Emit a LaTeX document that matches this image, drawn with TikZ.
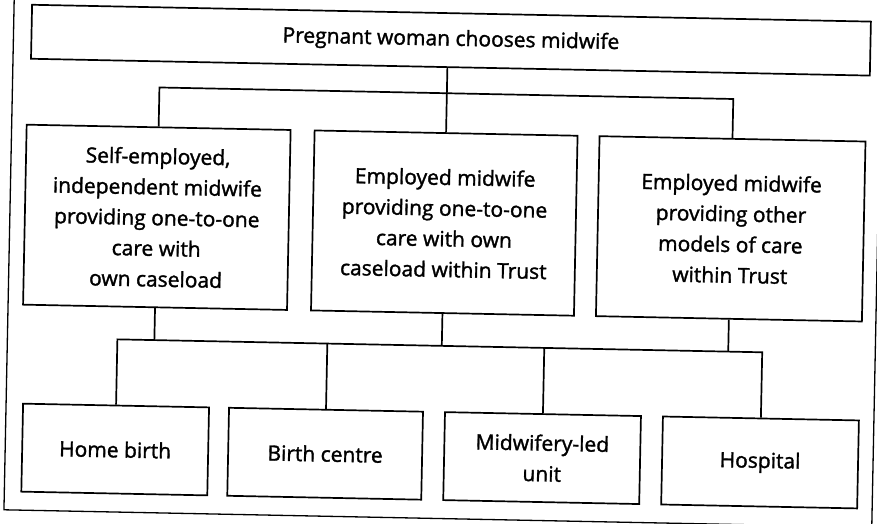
\documentclass[tikz,border=0pt]{standalone}
\usepackage{fontspec}
\setmainfont[FakeBold=1.5]{Open Sans}
\begin{document}
\begin{tikzpicture}[x=1pt,y=-1pt,
  box/.style={draw, line width=1.7pt, align=center, inner sep=0pt, transform shape,
    font=\fontsize{21}{30.7}\selectfont},
  conn/.style={line width=1.7pt}]
\useasboundingbox (0,0) rectangle (877,524);
\clip (0,0) rectangle (877,524);
\begin{scope}[rotate around={-1.15:(440,262)}]
\draw[line width=1.3pt] (9,-40) rectangle (877,518.5);
\node[box, minimum width=839pt, minimum height=54pt] (top) at (446.5,40) {Pregnant woman chooses midwife};
\node[box, minimum width=264pt, minimum height=180pt] (l1) at (156,223) {Self-employed,\\independent midwife\\providing one-to-one\\care with\\own caseload};
\node[box, minimum width=263pt, minimum height=180pt] (l2) at (443.5,223) {Employed midwife\\providing one-to-one\\care with own\\caseload within Trust};
\node[box, minimum width=266pt, minimum height=180pt] (l3) at (730,223) {Employed midwife\\providing other\\models of care\\within Trust};
\node[box, minimum width=186pt, minimum height=88pt] (b1) at (119,456) {Home birth};
\node[box, minimum width=194pt, minimum height=88pt] (b2) at (329,456) {Birth centre};
\node[box, minimum width=196pt, minimum height=88pt] (b3) at (546,456) {Midwifery-led\\unit};
\node[box, minimum width=196pt, minimum height=88pt] (b4) at (764,456) {Hospital};
\path (l1.north) ++(0,-39) coordinate (h1);
\path (l1.south) ++(0,32) coordinate (h2);
\draw[conn] (top.south -| l2.north) -- (l2.north);
\draw[conn] (l1.north) -- (h1) -| (l3.north);
\draw[conn] (l1.south) -- (h2);
\draw[conn] (l2.south) -- (l2.south |- h2);
\draw[conn] (l3.south) -- (l3.south |- h2);
\draw[conn] (b1.north) |- (b4.north |- h2) -- (b4.north);
\draw[conn] (b2.north) -- (b2.north |- h2);
\draw[conn] (b3.north) -- (b3.north |- h2);
\end{scope}
\end{tikzpicture}
\end{document}
